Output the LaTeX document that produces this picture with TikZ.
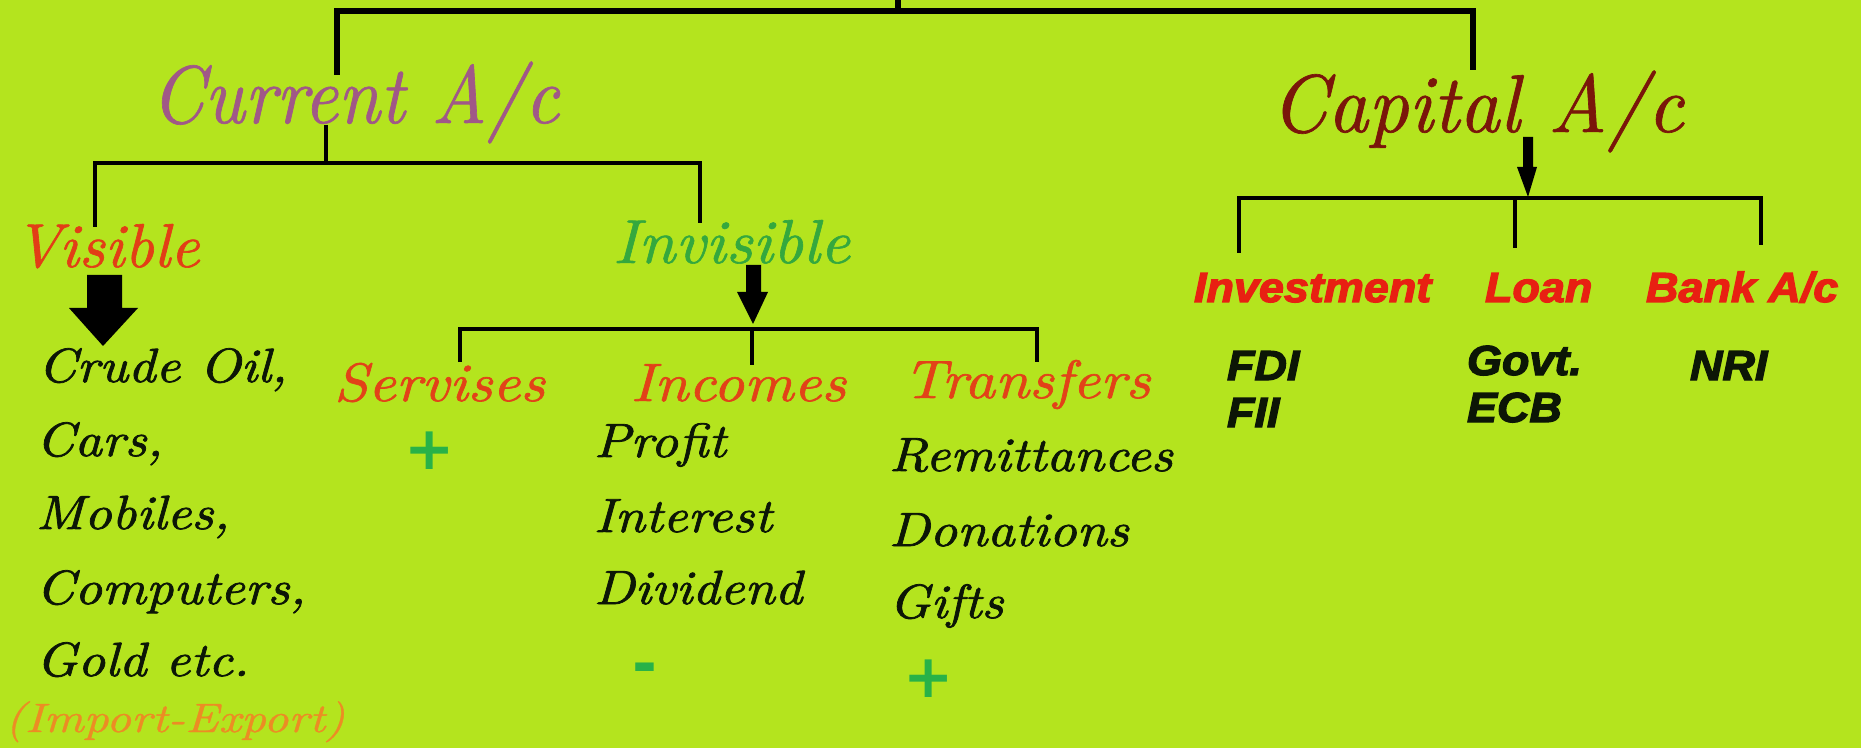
\documentclass[tikz,border=0pt]{standalone}
\usepackage{fontspec}
\newfontfamily\impfont{Liberation Sans}[FakeBold=3, FakeStretch=1.07]
\newfontfamily\signfont{DejaVu Sans}
\newfontfamily\curfnt{lmroman10-italic.otf}[FakeStretch=0.91, FakeBold=0.8]
\newfontfamily\capfnt{lmroman10-italic.otf}[FakeStretch=0.965, FakeBold=0.8]
\newfontfamily\visfnt{lmroman10-italic.otf}[FakeStretch=1.03, FakeBold=1]
\newfontfamily\invfnt{lmroman10-italic.otf}[FakeStretch=1.06, FakeBold=1]
\newfontfamily\subfnt{lmroman10-italic.otf}[FakeStretch=1.12, FakeBold=1.2]
\newfontfamily\itemfnt{lmroman10-italic.otf}[FakeStretch=1.12, FakeBold=1.5]
\newfontfamily\iefnt{lmroman10-italic.otf}[FakeStretch=1.19, FakeBold=0.8]
\definecolor{bg}{RGB}{180,228,30}
\definecolor{curcol}{RGB}{160,88,135}
\definecolor{capcol}{RGB}{122,22,10}
\definecolor{viscol}{RGB}{226,62,22}
\definecolor{invcol}{RGB}{52,168,62}
\definecolor{subcol}{RGB}{226,66,24}
\definecolor{impcol}{RGB}{232,32,18}
\definecolor{sgncol}{RGB}{40,178,72}
\definecolor{iecol}{RGB}{236,140,36}
\definecolor{txtcol}{RGB}{12,22,6}
\tikzset{
  lbl/.style={anchor=base west, inner sep=0pt, outer sep=0pt},
  curstyle/.style={lbl, font=\fontsize{41}{41}\curfnt},
  capstyle/.style={lbl, font=\fontsize{41}{41}\capfnt},
  visstyle/.style={lbl, font=\fontsize{31}{31}\visfnt},
  invstyle/.style={lbl, font=\fontsize{31}{31}\invfnt},
  sub/.style={lbl, font=\fontsize{27}{27}\subfnt, text=subcol},
  item/.style={lbl, font=\fontsize{24}{24}\itemfnt, text=txtcol},
  imp/.style={lbl, font=\fontsize{21}{21}\impfont\bfseries\itshape},
  sign/.style={anchor=center, inner sep=0pt, font=\fontsize{30}{30}\signfont\bfseries, text=sgncol},
  thickln/.style={line width=3pt, draw=black},
  ln/.style={line width=2.3pt, draw=black},
  thinln/.style={line width=2pt, draw=black},
}
\begin{document}
\begin{tikzpicture}[x=0.5pt,y=-0.5pt]
\fill[bg] (0,0) rectangle (1861,748);
\useasboundingbox (0,0) rectangle (1861,748);

% headings
\node[curstyle, text=curcol] (cur) at (151,123) {Current A/c};
\node[capstyle, text=capcol] (cap) at (1271,132) {Capital A/c};
\node[visstyle, text=viscol] (vis) at (14,267) {Visible};
\node[invstyle, text=invcol] (inv) at (613,263) {Invisible};

% invisible subheads
\node[sub] (ser) at (334,401) {Servises};
\node[sub] (inc) at (631,401) {Incomes};
\node[sub] (tra) at (903,398) {Transfers};

% visible items
\node[item] (v1) at (38,382) {Crude Oil,};
\node[item] (v2) at (36,456) {Cars,};
\node[item] (v3) at (36,529) {Mobiles,};
\node[item] (v4) at (36,604) {Computers,};
\node[item] (v5) at (36,676) {Gold etc.};
\node[lbl, font=\fontsize{20.5}{20.5}\iefnt, text=iecol] (ie) at (5,732) {(Import-Export)};

% incomes items
\node[item] (i1) at (594,457) {Profit};
\node[item] (i2) at (594,532) {Interest};
\node[item] (i3) at (594,604) {Dividend};

% transfers items
\node[item] (t1) at (889,471) {Remittances};
\node[item] (t2) at (889,546) {Donations};
\node[item] (t3) at (889,618) {Gifts};

% signs
\node[sign] (s1) at (430,451) {+};
\node[sign] (s2) at (645,674) {-};
\node[sign] (s3) at (929,679) {+};

% capital subheads
\node[imp, text=impcol] (invest) at (1194,302) {Investment};
\node[imp, text=impcol] (loan) at (1485,302) {Loan};
\node[imp, text=impcol] (bank) at (1646,302) {Bank A/c};

\node[imp, text=txtcol] (fdi) at (1227,380) {FDI};
\node[imp, text=txtcol] (fii) at (1227,427) {FII};
\node[imp, text=txtcol] (govt) at (1467,375) {Govt.};
\node[imp, text=txtcol] (ecb) at (1467,422) {ECB};
\node[imp, text=txtcol] (nri) at (1690,380) {NRI};

% junction coordinates
\coordinate (top) at (898,0);
\coordinate (topj) at (898,11);
\coordinate (curtop) at (337,75);
\coordinate (captop) at (1473,70);
\coordinate (curbot) at (326,125);
\coordinate (curj) at (326,163);
\coordinate (visj) at (95,227);
\coordinate (invj) at (700,223);
\coordinate (serj) at (460,362);
\coordinate (incj) at (752,365);
\coordinate (traj) at (1037,362);
\coordinate (invh) at (752,329);
\coordinate (investj) at (1239,253);
\coordinate (loanj) at (1515,248);
\coordinate (bankj) at (1761,245);
\coordinate (caph) at (1515,198);

% top bracket
\draw[thickln] (top) -- (topj);
\draw[thickln] (curtop) |- (topj) -| (captop);

% current bracket
\draw[ln] (curbot) -- (curj);
\draw[ln] (visj) |- (curj) -| (invj);

% invisible bracket
\draw[thinln] (serj) |- (invh) -| (traj);
\draw[thinln] (invh) -- (incj);

% capital bracket
\draw[thinln] (investj) |- (caph) -| (bankj);
\draw[thinln] (caph) -- (loanj);

% arrows
\fill[black] (87,275) -- (122,275) -- (122,308) -- (138,308) -- (103,346) -- (69,308) -- (87,308) -- cycle;
\fill[black] (746,265) -- (761,265) -- (761,292) -- (768,292) -- (753,324) -- (737,292) -- (746,292) -- cycle;
\fill[black] (1523,137) -- (1533,137) -- (1533,167) -- (1537,167) -- (1528,197) -- (1517,167) -- (1523,167) -- cycle;
\end{tikzpicture}
\end{document}
